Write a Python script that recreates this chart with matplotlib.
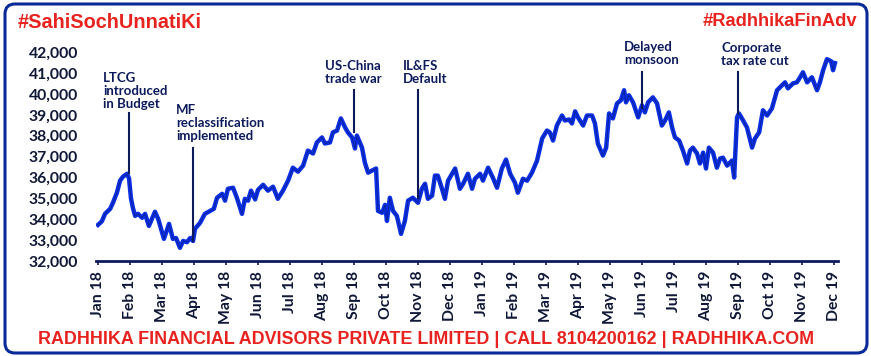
import numpy as np
import matplotlib
matplotlib.use("Agg")
import matplotlib.pyplot as plt
from matplotlib.patches import FancyBboxPatch

# Sensex closing values, Jan 2018 - Dec 2019 (x = months since Jan 2018)
t_month = [0.00, 0.12, 0.22, 0.38, 0.47, 0.59, 0.69, 0.78, 0.91, 0.97,
           1.03, 1.09, 1.16, 1.25, 1.38, 1.47, 1.59, 1.78, 1.88, 2.06,
           2.22, 2.34, 2.44, 2.56, 2.66, 2.78, 2.88, 2.97, 3.03, 3.19,
           3.34, 3.50, 3.62, 3.72, 3.88, 3.97, 4.06, 4.22, 4.34, 4.50,
           4.59, 4.69, 4.78, 4.91, 5.00, 5.16, 5.31, 5.47, 5.62, 5.78,
           5.94, 6.09, 6.25, 6.41, 6.56, 6.72, 6.84, 7.00, 7.09, 7.25,
           7.34, 7.47, 7.59, 7.72, 7.81, 7.94, 8.03, 8.09, 8.25, 8.34,
           8.44, 8.56, 8.69, 8.75, 8.88, 8.97, 9.03, 9.12, 9.22, 9.34,
           9.47, 9.59, 9.69, 9.84, 10.00, 10.12, 10.22, 10.31, 10.44, 10.53,
           10.62, 10.75, 10.84, 10.94, 11.16, 11.31, 11.41, 11.56, 11.69, 11.78,
           11.94, 12.03, 12.19, 12.34, 12.47, 12.62, 12.75, 12.88, 13.03, 13.12,
           13.28, 13.41, 13.56, 13.72, 13.88, 14.03, 14.12, 14.22, 14.34, 14.50,
           14.59, 14.72, 14.81, 14.91, 15.00, 15.16, 15.28, 15.44, 15.53, 15.62,
           15.78, 15.88, 15.97, 16.09, 16.22, 16.34, 16.44, 16.50, 16.59, 16.72,
           16.88, 17.00, 17.09, 17.19, 17.34, 17.47, 17.62, 17.72, 17.84, 17.94,
           18.03, 18.16, 18.28, 18.41, 18.50, 18.59, 18.72, 18.81, 18.91, 19.00,
           19.09, 19.22, 19.34, 19.44, 19.53, 19.66, 19.81, 19.88, 19.97, 20.03,
           20.16, 20.28, 20.44, 20.53, 20.66, 20.78, 20.91, 21.06, 21.22, 21.38,
           21.47, 21.56, 21.72, 21.84, 21.94, 22.03, 22.16, 22.31, 22.47, 22.56,
           22.66, 22.78, 22.91, 22.97, 23.03]
sensex = [33730, 33900, 34260, 34500, 34800, 35270, 35850, 36040, 36180, 35950,
          35000, 34550, 34160, 34260, 34070, 34260, 33680, 34360, 34020, 33060,
          33780, 33060, 33100, 32630, 32960, 32900, 33100, 32960, 33540, 33830,
          34260, 34400, 34500, 35030, 35220, 34890, 35460, 35510, 35030, 34260,
          34980, 34890, 35370, 34950, 35410, 35650, 35370, 35560, 34980, 35370,
          35850, 36470, 36280, 36570, 37290, 37150, 37680, 37920, 37630, 37680,
          38160, 38250, 38830, 38400, 38160, 37920, 37390, 38010, 37430, 36710,
          36230, 36330, 36430, 34400, 34310, 34690, 33920, 35030, 34400, 34160,
          33300, 33920, 34890, 35030, 34790, 35460, 35700, 34980, 35130, 36090,
          36090, 35460, 34980, 35850, 36430, 35460, 35700, 36180, 35460, 35940,
          36180, 35850, 36470, 35990, 35510, 36430, 36860, 36180, 35750, 35270,
          35940, 35850, 36230, 36810, 37870, 38250, 38160, 37770, 38490, 38970,
          38730, 38780, 38590, 39170, 38880, 38490, 38970, 38970, 38590, 37630,
          37050, 37430, 39070, 38830, 39550, 39700, 40180, 39600, 39940, 39600,
          38880, 39460, 39120, 39600, 39840, 39550, 38490, 38730, 39120, 38400,
          37920, 37770, 37290, 36670, 37290, 37430, 37150, 36670, 37190, 36430,
          37430, 37190, 36470, 36910, 36950, 36570, 36810, 36000, 38880, 39070,
          38730, 38400, 37430, 37870, 38160, 39220, 38970, 39310, 40180, 40420,
          40560, 40270, 40510, 40560, 40800, 41040, 40560, 40800, 40180, 40560,
          41140, 41670, 41570, 41140, 41480]

month_labels = ["Jan 18", "Feb 18", "Mar 18", "Apr 18", "May 18", "Jun 18",
                "Jul 18", "Aug 18", "Sep 18", "Oct 18", "Nov 18", "Dec 18",
                "Jan 19", "Feb 19", "Mar 19", "Apr 19", "May 19", "Jun 19",
                "Jul 19", "Aug 19", "Sep 19", "Oct 19", "Nov 19", "Dec 19"]
y_ticks = [32000, 33000, 34000, 35000, 36000, 37000, 38000, 39000, 40000, 41000, 42000]

# events: label, month position, marker line top / bottom, label corner
event_names = ["LTCG\nintroduced\nin Budget", "MF\nreclassification\nimplemented",
               "US-China\ntrade war", "IL&FS\nDefault", "Delayed\nmonsoon",
               "Corporate\ntax rate cut"]
event_t = [0.97, 2.97, 8.0, 10.0, 17.0, 20.0]
event_top = [39070, 37390, 40180, 40180, 41040, 41040]
event_bottom = [36230, 32960, 38160, 35030, 39310, 39070]
label_t = [0.16, 2.44, 7.09, 9.53, 16.44, 19.47]
label_y = [39250, 37680, 40420, 40420, 41330, 41280]

navy = "#0d1a5c"
red = "#e8231f"

fig = plt.figure(figsize=(8.71, 3.56), dpi=100)

# background frame
bg = fig.add_axes([0, 0, 1, 1])
bg.set_xlim(0, 871)
bg.set_ylim(356, 0)
bg.axis("off")
bg.add_patch(FancyBboxPatch((5, 4), 862, 349, boxstyle="round,pad=0,rounding_size=10",
                            fc="white", ec="#0a2a9a", lw=2.2))

ax = fig.add_axes([96 / 871, 95 / 356, 742 / 871, 215 / 356])
ax.patch.set_alpha(0)
ax.plot(t_month, sensex, color="#0a30e6", lw=3.2, solid_joinstyle="round", zorder=3)
ax.plot(t_month, sensex, color="#0a1670", lw=0.7, alpha=0.6, zorder=4)

for name, t, top, bot, lt, ly in zip(event_names, event_t, event_top, event_bottom, label_t, label_y):
    ax.plot([t, t], [bot, top], color=navy, lw=1.5, zorder=5)
    ax.text(lt, ly, name, ha="left", va="bottom", fontsize=9.5, fontweight="bold",
            family="Lato", color=navy, linespacing=1.1)

ax.set_xlim(-0.0625, 23.125)
ax.set_ylim(32000, 42300)
ax.set_xticks(range(len(month_labels)))
ax.set_xticklabels(month_labels, rotation=90, fontsize=11.3, fontweight="bold",
                   family="Lato", color="#101838")
ax.set_yticks(y_ticks)
ax.set_yticklabels([f"{v:,}" for v in y_ticks], fontsize=11.3, fontweight="bold",
                   family="Lato", color="#101838")
ax.tick_params(axis="y", length=0, pad=13)
ax.tick_params(axis="x", length=3, width=1.2, color=navy, pad=4)
for s in ["left", "right", "top"]:
    ax.spines[s].set_visible(False)
ax.spines["bottom"].set_color(navy)
ax.spines["bottom"].set_linewidth(2)

fig.text(18 / 871, 1 - 22 / 356, "#SahiSochUnnatiKi", ha="left", va="center",
         fontsize=14.3, fontweight="bold", family="Liberation Sans", color=red)
fig.text(857 / 871, 1 - 22 / 356, "#RadhhikaFinAdv", ha="right", va="center",
         fontsize=13.2, fontweight="bold", family="Liberation Sans", color=red)
fig.text(426 / 871, 1 - 339 / 356,
         "RADHHIKA FINANCIAL ADVISORS PRIVATE LIMITED | CALL 8104200162 | RADHHIKA.COM",
         ha="center", va="center", fontsize=12.9, fontweight="bold",
         family="Liberation Sans", color=red)

fig.savefig("out.png", dpi=100)
